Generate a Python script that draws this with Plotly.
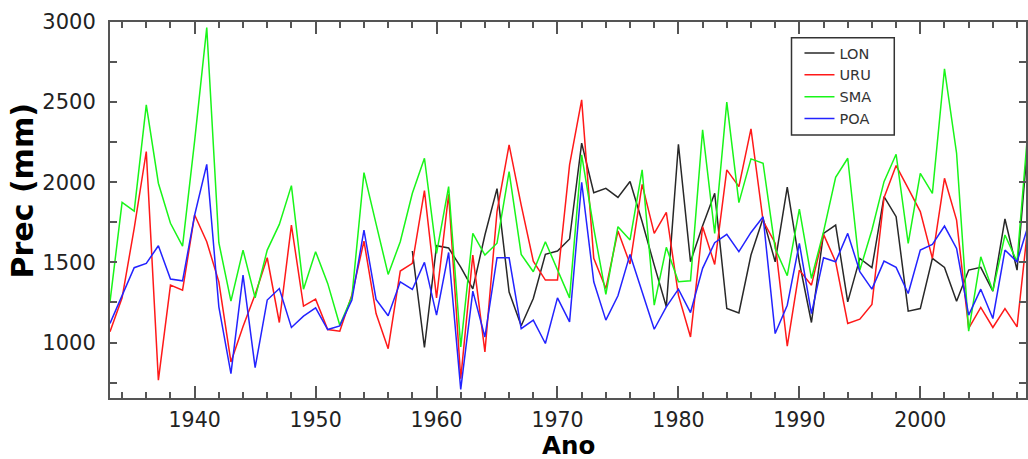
import plotly.graph_objects as go

years = list(range(1933, 2010))
years_lon = list(range(1958, 2010))

lon = [1571, 969, 1604, 1590, 1470, 1335, 1671, 1960, 1315, 1105,
       1275, 1550, 1571, 1646, 2244, 1935, 1962, 1906, 2005, 1754,
       1483, 1223, 2237, 1504, 1729, 1931, 1212, 1185, 1546, 1775,
       1504, 1969, 1500, 1125, 1681, 1733, 1254, 1525, 1467, 1910,
       1785, 1196, 1212, 1525, 1469, 1258, 1452, 1469, 1321, 1771,
       1452, 2350]

uru = [1067, 1279, 1712, 2192, 765, 1358, 1327, 1796, 1629, 1379,
       879, 1100, 1300, 1529, 1125, 1733, 1227, 1271, 1081, 1071,
       1296, 1633, 1181, 962, 1446, 1494, 1948, 1279, 1925, 775,
       1546, 942, 1817, 2233, 1858, 1508, 1390, 1390, 2108, 2514,
       1525, 1337, 1696, 1490, 1987, 1681, 1812, 1296, 1035, 1723,
       1487, 2077, 1973, 2333, 1760, 1620, 977, 1452, 1358, 1675,
       1504, 1119, 1146, 1238, 1904, 2104, 1962, 1817, 1525, 2025,
       1764, 1088, 1219, 1094, 1212, 1098, 1800]

sma = [1254, 1875, 1820, 2483, 1994, 1744, 1602, 2260, 2965, 1623,
       1258, 1577, 1279, 1577, 1737, 1979, 1333, 1567, 1369, 1108,
       1285, 2060, 1740, 1425, 1629, 1931, 2150, 1556, 1973, 973,
       1681, 1546, 1620, 2066, 1550, 1442, 1629, 1458, 1279, 2171,
       1712, 1300, 1723, 1640, 2077, 1233, 1594, 1379, 1385, 2327,
       1681, 2500, 1873, 2146, 2119, 1587, 1417, 1833, 1400, 1692,
       2031, 2150, 1452, 1702, 2004, 2175, 1619, 2056, 1931, 2708,
       2181, 1071, 1535, 1321, 1671, 1504, 2420]

poa = [1119, 1296, 1467, 1494, 1604, 1396, 1385, 1796, 2112, 1223,
       806, 1421, 844, 1265, 1337, 1094, 1165, 1217, 1081, 1104,
       1265, 1702, 1269, 1167, 1379, 1331, 1500, 1171, 1562, 708,
       1321, 1035, 1529, 1529, 1087, 1140, 994, 1279, 1129, 2000,
       1379, 1140, 1292, 1550, 1321, 1083, 1223, 1333, 1187, 1463,
       1623, 1675, 1567, 1687, 1785, 1056, 1233, 1619, 1181, 1529,
       1504, 1681, 1442, 1333, 1508, 1469, 1306, 1577, 1612, 1727,
       1587, 1171, 1333, 1150, 1577, 1504, 1750]

series = [
    ("LON", years_lon, lon, "rgb(40,40,40)"),
    ("URU", years, uru, "rgb(255,25,25)"),
    ("SMA", years, sma, "rgb(25,245,25)"),
    ("POA", years, poa, "rgb(35,35,255)"),
]

fig = go.Figure()
for name, xs, ys, col in series:
    fig.add_trace(go.Scatter(x=xs, y=ys, mode="lines", name=name,
                             line=dict(color=col, width=1.5)))

axcol = "#555555"
fig.update_layout(
    width=1028, height=459,
    margin=dict(l=110, r=0, t=22, b=61),
    paper_bgcolor="white", plot_bgcolor="white",
    font=dict(family="DejaVu Sans", color="#222222"),
    showlegend=True,
    legend=dict(x=0.7527, y=0.96, xanchor="left", yanchor="top",
                borderwidth=0, bgcolor="rgba(0,0,0,0)",
                font=dict(size=14.5, color="#333333"),
                tracegroupgap=0),
    shapes=[
        dict(type="rect", xref="paper", yref="paper", layer="above",
             x0=0.744, x1=0.8562, y0=0.6998, y1=0.9582,
             fillcolor="white", line=dict(color="#333333", width=1.5)),
    ],
    annotations=[
        dict(text="<b>Ano</b>", xref="paper", yref="paper",
             x=0.5, y=-0.127, xanchor="center", yanchor="middle",
             showarrow=False, font=dict(size=24.5, color="black")),
        dict(text="<b>Prec (mm)</b>", xref="paper", yref="paper",
             x=-0.0958, y=0.55, xanchor="center", yanchor="middle",
             textangle=-90, showarrow=False,
             font=dict(size=30, color="black")),
    ],
)
fig.update_xaxes(
    range=[1933, 2008.74], showgrid=False, zeroline=False,
    showline=True, linecolor=axcol, linewidth=2, mirror="allticks",
    ticks="inside", tick0=1940, dtick=10, ticklen=12, tickwidth=1.5,
    tickcolor=axcol, tickfont=dict(size=20.5, color="#222222"),
    ticklabelstandoff=2,
    minor=dict(ticks="inside", dtick=2, tick0=1934, ticklen=6,
               tickwidth=1.5, tickcolor=axcol, showgrid=False),
)
fig.update_yaxes(
    range=[654, 3000], showgrid=False, zeroline=False,
    showline=True, linecolor=axcol, linewidth=2, mirror="allticks",
    ticks="inside", tick0=1000, dtick=500, ticklen=7, tickwidth=1.5,
    tickcolor=axcol, tickfont=dict(size=21, color="#222222"),
    ticklabelstandoff=8,
    minor=dict(ticks="inside", dtick=250, ticklen=7, tickwidth=1.5,
               tickcolor=axcol, showgrid=False),
)

fig.write_html("out.html")
